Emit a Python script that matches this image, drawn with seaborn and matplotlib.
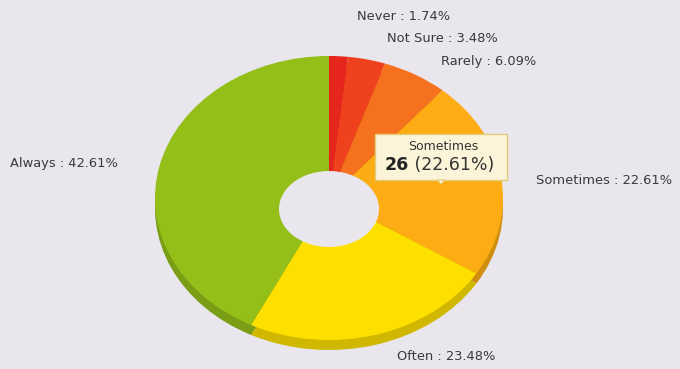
import matplotlib
matplotlib.use("Agg")
import matplotlib.pyplot as plt
import matplotlib.colors as mcolors
from matplotlib.patches import Ellipse, Rectangle, Polygon
import seaborn as sns

# Survey answers, in the order they are laid out clockwise from 12 o'clock
categories = ["Never", "Not Sure", "Rarely", "Sometimes", "Often", "Always"]
counts = [2, 4, 7, 26, 27, 49]
highlighted = "Sometimes"

total = sum(counts)
shares = [100.0 * c / total for c in counts]

sns.set_theme(style="white")
plt.rcParams["font.family"] = ["DejaVu Sans"]

top_colors = sns.color_palette(["#E6261C", "#EF411D", "#F5711D", "#FDAD13", "#FEE000", "#93BF18"])
side_colors = [tuple(v * 0.82 for v in mcolors.to_rgb(c)) for c in top_colors]

BG = "#E9E6EE"
W, H = 680, 369
fig = plt.figure(figsize=(W / 100, H / 100), dpi=100, facecolor=BG)
ax = fig.add_axes([0, 0, 1, 1])
ax.set_facecolor(BG)

# disc geometry in pixels: centre, radii of the tilted top face, rim thickness
cx, cy, rx, ry, depth = 329, 198, 174, 142, 10

# rim (drawn slightly lower), then top face
ax.pie(counts, colors=side_colors, startangle=90, counterclock=False,
       center=(0, -depth / ry), wedgeprops=dict(linewidth=0))
ax.pie(counts, colors=top_colors, startangle=90, counterclock=False,
       wedgeprops=dict(linewidth=0))

# doughnut hole
ax.add_patch(Ellipse((0, (cy - 209) / ry), width=2 * 50 / rx, height=2 * 38 / ry,
                     facecolor=BG, edgecolor="none", zorder=5))

ax.set_xlim(-cx / rx, (W - cx) / rx)
ax.set_ylim((cy - H) / ry, cy / ry)
ax.set_aspect("auto")
ax.axis("off")

# overlay in pixel coordinates for the labels
ov = fig.add_axes([0, 0, 1, 1], facecolor="none")
ov.set_xlim(0, W)
ov.set_ylim(H, 0)
ov.axis("off")

label_pos = {
    "Never": (357, 16),
    "Not Sure": (387, 39),
    "Rarely": (441, 62),
    "Sometimes": (536, 181),
    "Often": (397, 357),
    "Always": (10, 163),
}
txt_color = "#3A3A3A"
for name, pct in zip(categories, shares):
    x, y = label_pos[name]
    ov.text(x, y, f"{name} : {pct:.2f}%", fontsize=9.4, color=txt_color,
            ha="left", va="center")

# hover box for the highlighted slice
i = categories.index(highlighted)
bx, by, bw, bh = 375, 134, 132, 46
ov.add_patch(Rectangle((bx, by), bw, bh, facecolor="#FCF4D8", edgecolor="#E3CC78",
                       linewidth=1.0, zorder=6))
ov.add_patch(Polygon([(bx + bw / 2 - 4, by + bh), (bx + bw / 2 + 4, by + bh),
                      (bx + bw / 2, by + bh + 4)], closed=True,
                     facecolor="#FCF4D8", edgecolor="#E3CC78", linewidth=0.8, zorder=6))
ov.text(bx + bw / 2 + 2, by + 12, highlighted, fontsize=9, color="#333333",
        ha="center", va="center", zorder=7)
t1 = ov.text(bx + 10, by + 31, f"{counts[i]}", fontsize=12.5, fontweight="bold",
             color="#222222", ha="left", va="center", zorder=7)
fig.canvas.draw()
bb = t1.get_window_extent()
x_end = ov.transData.inverted().transform((bb.x1, bb.y0))[0]
ov.text(x_end, by + 31, f" ({shares[i]:.2f}%)", fontsize=12.5, color="#333333",
        ha="left", va="center", zorder=7)

fig.savefig("out.png", dpi=100, facecolor=BG)
